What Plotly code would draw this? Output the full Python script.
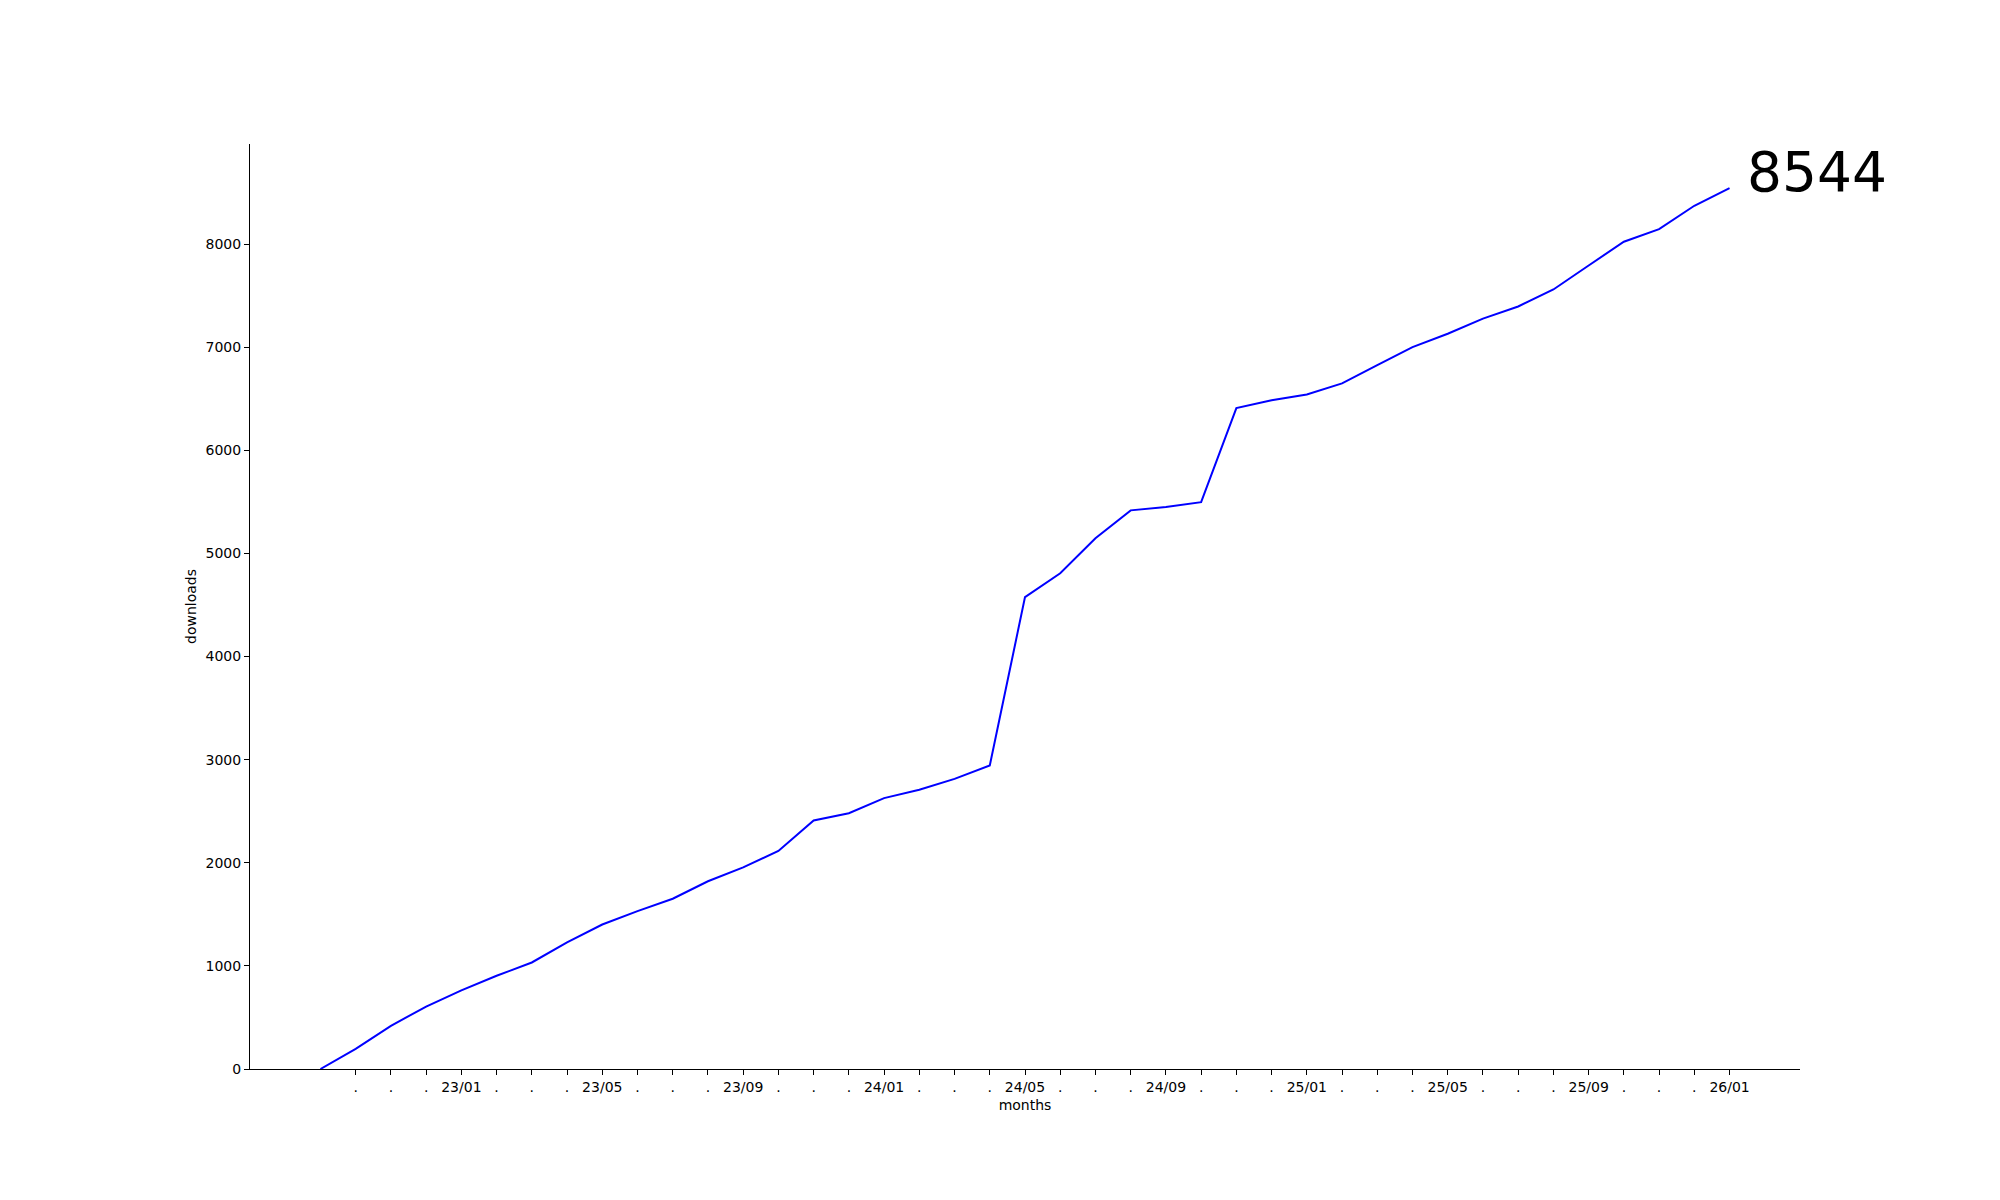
import plotly.graph_objects as go

# monthly cumulative downloads, 22/09 .. 26/01
months = [
    "22/09", "22/10", "22/11", "22/12",
    "23/01", "23/02", "23/03", "23/04", "23/05", "23/06", "23/07", "23/08",
    "23/09", "23/10", "23/11", "23/12",
    "24/01", "24/02", "24/03", "24/04", "24/05", "24/06", "24/07", "24/08",
    "24/09", "24/10", "24/11", "24/12",
    "25/01", "25/02", "25/03", "25/04", "25/05", "25/06", "25/07", "25/08",
    "25/09", "25/10", "25/11", "25/12",
    "26/01",
]
downloads = [
    0, 195, 419, 606, 762, 904, 1033, 1227, 1401, 1531, 1651, 1821,
    1955, 2115, 2410, 2481, 2627, 2708, 2814, 2943, 4576, 4808, 5148, 5418,
    5450, 5497, 6410, 6485, 6542, 6649, 6826, 7001, 7131, 7278, 7395, 7560,
    7793, 8023, 8145, 8372, 8544,
]

x = list(range(len(months)))

# ticks on every month except the first, only Jan/May/Sep get a label
tick_vals = x[1:]
tick_text = [m if m[-2:] in ("01", "05", "09") else "." for m in months[1:]]

font = dict(family="DejaVu Sans", size=14, color="black")

fig = go.Figure()
fig.add_trace(
    go.Scatter(
        x=x, y=downloads,
        mode="lines",
        line=dict(color="#0000ff", width=2),
        showlegend=False,
    )
)

# total at the end of the line
fig.add_annotation(
    x=x[-1], y=downloads[-1],
    text=str(downloads[-1]),
    showarrow=False,
    xanchor="left", yanchor="bottom",
    xshift=15, yshift=-18,
    font=dict(family="DejaVu Sans", size=55, color="black"),
)

fig.update_layout(
    width=2000, height=1200,
    paper_bgcolor="white", plot_bgcolor="white",
    margin=dict(l=242, r=208, t=136, b=139),
    font=font,
)
fig.update_xaxes(
    range=[-2, 42],
    tickmode="array", tickvals=tick_vals, ticktext=tick_text,
    ticks="outside", ticklen=5, tickcolor="black", tickwidth=1,
    showline=True, linecolor="black", linewidth=1,
    showgrid=False, zeroline=False,
    title=dict(text="months", font=font, standoff=6),
    tickfont=font,
)
fig.update_yaxes(
    range=[0, 8971],
    tickmode="array", tickvals=list(range(0, 9000, 1000)),
    ticks="outside", ticklen=5, tickcolor="black", tickwidth=1,
    showline=True, linecolor="black", linewidth=1,
    showgrid=False, zeroline=False,
    title=dict(text="downloads", font=font, standoff=5),
    tickfont=font,
)

fig.write_html("out.html")
